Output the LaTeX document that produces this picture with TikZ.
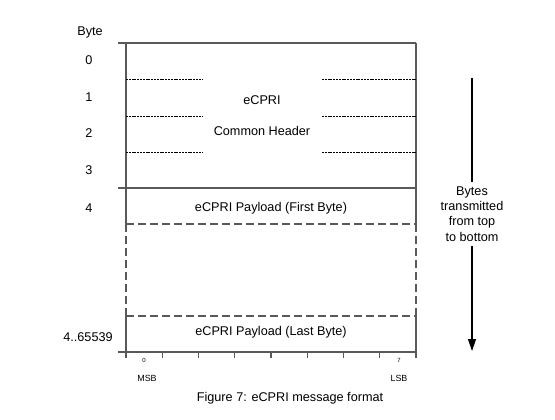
\documentclass[tikz,border=0pt]{standalone}
\usepackage{fontspec}
\setmainfont{Liberation Sans}
\usetikzlibrary{arrows.meta}
\tikzset{
  lbl/.style={font=\fontsize{9.5}{11.5}\selectfont},
  bitlbl/.style={font=\fontsize{4.5}{5}\selectfont},
  endlbl/.style={font=\fontsize{6.7}{8}\selectfont},
  frame/.style={draw=black!65, line width=0.8pt},
  fine/.style={draw=black, dash pattern=on 1.5pt off 0.6pt, line width=0.5pt},
  gap/.style={draw=black!65, dash pattern=on 6pt off 3pt, line width=0.8pt},
}
\begin{document}
\begin{tikzpicture}[x=0.75pt,y=-0.75pt]
    \useasboundingbox (0,0) rectangle (555,419);
    \draw[frame] (118,43) -- (416,43);
    \draw[frame] (118,188) -- (416,188);
    \draw[frame] (118,352) -- (416,352);
    \draw[frame] (126,43) -- (126,224) (126,316) -- (126,358);
    \draw[frame] (416,43) -- (416,224) (416,316) -- (416,358);
    \draw[gap] (126,224) -- (126,316) (416,224) -- (416,316);
    \draw[gap] (126,224) -- (416,224) (126,316) -- (416,316);
    \foreach \y in {79,116,152}
        \draw[fine] (126,\y) -- (203,\y) (322,\y) -- (416,\y);
    \foreach \i in {1,...,7}
        \draw[frame] (126+36.25*\i,352) -- (126+36.25*\i,358);
    \node[lbl] (byte) at (90,32) {Byte};
    \node[lbl] (b0) at (89,60) {0};
    \node[lbl] (b1) at (89,97) {1};
    \node[lbl] (b2) at (89,133) {2};
    \node[lbl] (b3) at (89,170) {3};
    \node[lbl] (b4) at (89,208) {4};
    \node[lbl] (blast) at (88,337) {4..65539};
    \node[lbl] (hdr1) at (262,100) {eCPRI};
    \node[lbl] (hdr2) at (262,131) {Common Header};
    \node[lbl] (first) at (271,208) {eCPRI Payload (First Byte)};
    \node[lbl] (last) at (271,332) {eCPRI Payload (Last Byte)};
    \node[bitlbl] (bit0) at (144,360) {0};
    \node[bitlbl] (bit7) at (399,360) {7};
    \node[endlbl] (msb) at (147,378) {MSB};
    \node[endlbl] (lsb) at (399,378) {LSB};
    \node[lbl] (caption) at (290,398) {Figure 7: eCPRI message format};
    \coordinate (arrtop) at (472,78);
    \coordinate (arrend) at (472,351);
    \node[lbl, align=center] (dir) at (472,214) {Bytes\\transmitted\\from top\\to bottom};
    \draw[line width=0.8pt] (arrtop) -- (dir.north);
    \draw[line width=0.8pt, -{Triangle[length=9pt,width=6pt]}] (dir.south) -- (arrend);
\end{tikzpicture}
\end{document}
